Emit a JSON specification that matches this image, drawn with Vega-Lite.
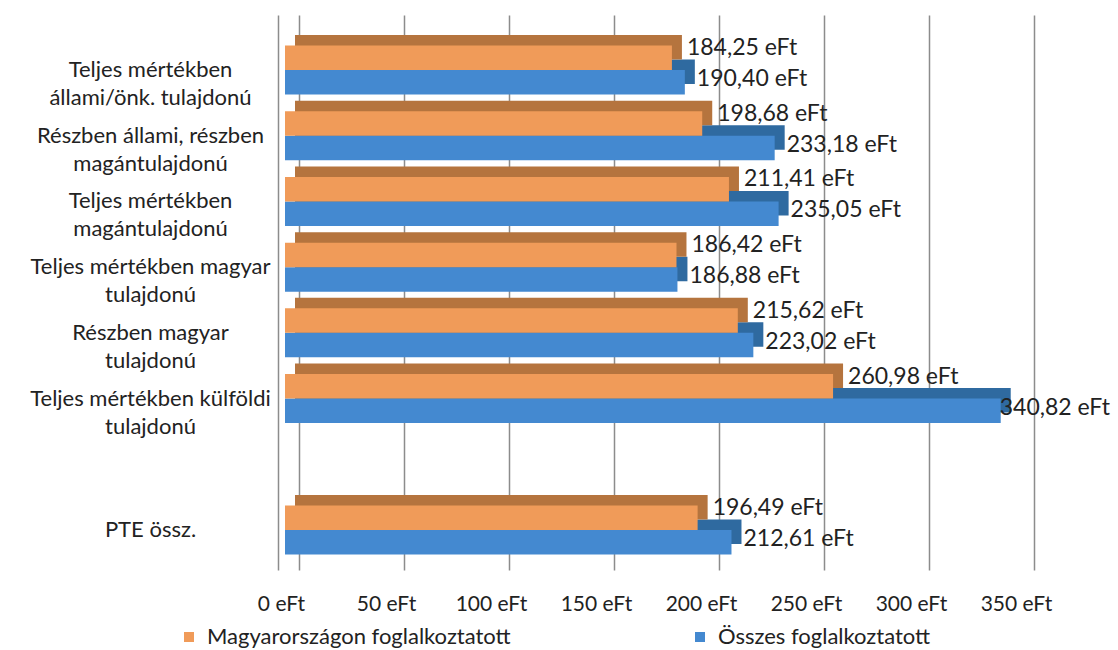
{
  "$schema": "https://vega.github.io/schema/vega-lite/v6.json",
  "width": 735,
  "height": 555,
  "autosize": "none",
  "padding": {"left": 285, "top": 15, "right": 98, "bottom": 80},
  "background": "white",
  "config": {"view": {"stroke": null}, "font": "Lato"},
  "datasets": {
    "bars": [
      {"cat": "Teljes mértékben|állami/önk. tulajdonú", "series": "Magyarországon foglalkoztatott", "value": 184.25, "label": "184,25 eFt"},
      {"cat": "Teljes mértékben|állami/önk. tulajdonú", "series": "Összes foglalkoztatott", "value": 190.40, "label": "190,40 eFt"},
      {"cat": "Részben állami, részben|magántulajdonú", "series": "Magyarországon foglalkoztatott", "value": 198.68, "label": "198,68 eFt"},
      {"cat": "Részben állami, részben|magántulajdonú", "series": "Összes foglalkoztatott", "value": 233.18, "label": "233,18 eFt"},
      {"cat": "Teljes mértékben|magántulajdonú", "series": "Magyarországon foglalkoztatott", "value": 211.41, "label": "211,41 eFt"},
      {"cat": "Teljes mértékben|magántulajdonú", "series": "Összes foglalkoztatott", "value": 235.05, "label": "235,05 eFt"},
      {"cat": "Teljes mértékben magyar|tulajdonú", "series": "Magyarországon foglalkoztatott", "value": 186.42, "label": "186,42 eFt"},
      {"cat": "Teljes mértékben magyar|tulajdonú", "series": "Összes foglalkoztatott", "value": 186.88, "label": "186,88 eFt"},
      {"cat": "Részben magyar|tulajdonú", "series": "Magyarországon foglalkoztatott", "value": 215.62, "label": "215,62 eFt"},
      {"cat": "Részben magyar|tulajdonú", "series": "Összes foglalkoztatott", "value": 223.02, "label": "223,02 eFt"},
      {"cat": "Teljes mértékben külföldi|tulajdonú", "series": "Magyarországon foglalkoztatott", "value": 260.98, "label": "260,98 eFt"},
      {"cat": "Teljes mértékben külföldi|tulajdonú", "series": "Összes foglalkoztatott", "value": 340.82, "label": "340,82 eFt"},
      {"cat": "PTE össz.", "series": "Magyarországon foglalkoztatott", "value": 196.49, "label": "196,49 eFt"},
      {"cat": "PTE össz.", "series": "Összes foglalkoztatott", "value": 212.61, "label": "212,61 eFt"}
    ]
  },
  "data": {"name": "bars"},
  "encoding": {
    "y": {"field": "cat", "type": "nominal", "sort": null,
      "scale": {"domain": ["Teljes mértékben|állami/önk. tulajdonú", "Részben állami, részben|magántulajdonú", "Teljes mértékben|magántulajdonú", "Teljes mértékben magyar|tulajdonú", "Részben magyar|tulajdonú", "Teljes mértékben külföldi|tulajdonú", " ", "PTE össz."], "paddingInner": 0.25, "paddingOuter": 0.3486, "align": 0.664},
      "axis": {"title": null, "ticks": false, "domain": true, "domainColor": "#8c8c8c", "domainWidth": 1.5, "offset": 7, "labelAlign": "center", "labelBaseline": "top", "labelOffset": -10, "labelPadding": 128, "labelFontSize": 22, "labelLineHeight": 28, "labelColor": "#222222", "labelLimit": 300, "labelExpr": "split(datum.value, '|')"}},
    "x": {"field": "value", "type": "quantitative", "scale": {"domain": [0, 350], "nice": false},
      "axis": {"title": null, "domain": false, "ticks": false, "grid": true, "gridColor": "#8c8c8c", "gridWidth": 1.5, "tickOffset": 14, "values": [0, 50, 100, 150, 200, 250, 300, 350], "labelExpr": "datum.value + ' eFt'", "labelFontSize": 21, "labelPadding": 23, "labelOffset": -18, "labelColor": "#222222", "labelFlush": false}}
  },
  "layer": [
    {
      "transform": [{"filter": "datum.series == 'Összes foglalkoztatott'"}],
      "mark": {"type": "bar", "color": "#2F6AA0", "height": 24.5, "yOffset": 1.75, "xOffset": 10, "x2Offset": 10}
    },
    {
      "transform": [{"filter": "datum.series == 'Összes foglalkoztatott'"}],
      "mark": {"type": "bar", "height": 24.5, "yOffset": 12.25},
      "encoding": {
        "color": {"field": "series", "type": "nominal", "scale": {"domain": ["Magyarországon foglalkoztatott", "Összes foglalkoztatott"], "range": ["#F09B59", "#4489D0"]},
          "legend": {"title": null, "orient": "none", "legendX": -107, "legendY": 611, "direction": "horizontal", "symbolType": "square", "symbolSize": 100, "symbolStrokeWidth": 0, "labelFontSize": 22, "labelColor": "#222222", "columnPadding": 178, "labelOffset": 7, "labelLimit": 400}}
      }
    },
    {
      "transform": [{"filter": "datum.series == 'Magyarországon foglalkoztatott'"}],
      "mark": {"type": "bar", "color": "#B5743E", "height": 24.5, "yOffset": -22.75, "xOffset": 10, "x2Offset": 10}
    },
    {
      "transform": [{"filter": "datum.series == 'Magyarországon foglalkoztatott'"}],
      "mark": {"type": "bar", "height": 24.5, "yOffset": -12.25},
      "encoding": {
        "color": {"field": "series", "type": "nominal", "scale": {"domain": ["Magyarországon foglalkoztatott", "Összes foglalkoztatott"], "range": ["#F09B59", "#4489D0"]},
          "legend": {"title": null, "orient": "none", "legendX": -107, "legendY": 611, "direction": "horizontal", "symbolType": "square", "symbolSize": 100, "symbolStrokeWidth": 0, "labelFontSize": 22, "labelColor": "#222222", "columnPadding": 178, "labelOffset": 7, "labelLimit": 400}}
      }
    },
    {
      "transform": [{"filter": "datum.series == 'Magyarországon foglalkoztatott'"}],
      "mark": {"type": "text", "align": "left", "baseline": "middle", "dx": 15, "dy": -22, "fontSize": 23, "color": "#222222"},
      "encoding": {"text": {"field": "label"}}
    },
    {
      "transform": [{"filter": "datum.series == 'Összes foglalkoztatott'"}],
      "mark": {"type": "text", "align": "left", "baseline": "middle", "dx": {"expr": "datum.value > 330 ? -1 : 12"}, "dy": 9, "fontSize": 23, "color": "#222222"},
      "encoding": {"text": {"field": "label"}}
    }
  ]
}
